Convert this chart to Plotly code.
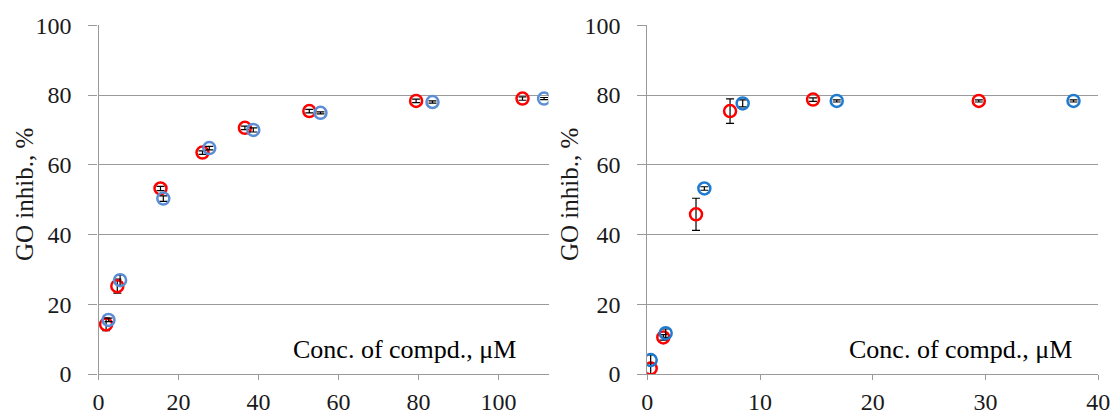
import plotly.graph_objects as go

# Left panel data
left_red_x = [1.9, 4.7, 15.5, 26.0, 36.6, 52.7, 79.4, 106.0]
left_red_y = [14.2, 25.2, 53.2, 63.5, 70.6, 75.4, 78.3, 79.0]
left_red_err = [1.8, 2.0, 0.6, 0.5, 0.5, 0.5, 0.5, 0.5]
left_blue_x = [2.5, 5.4, 16.2, 27.7, 38.7, 55.5, 83.5, 111.4]
left_blue_y = [15.5, 26.9, 50.3, 64.8, 70.0, 74.9, 78.0, 79.0]
left_blue_err = [0.5, 1.5, 0.8, 0.5, 0.6, 0.3, 0.3, 0.3]

# Right panel data
right_red_x = [0.3, 1.42, 4.32, 7.34, 14.7, 29.4]
right_red_y = [1.6, 10.5, 45.8, 75.4, 78.7, 78.3]
right_red_err = [1.5, 0.8, 4.6, 3.5, 0.5, 0.3]
right_blue_x = [0.3, 1.63, 5.06, 8.46, 16.8, 37.8]
right_blue_y = [4.0, 11.7, 53.2, 77.6, 78.3, 78.3]
right_blue_err = [1.5, 1.2, 0.5, 1.0, 0.3, 0.3]

y_ticks = [0, 20, 40, 60, 80, 100]
left_x_ticks = [0, 20, 40, 60, 80, 100]
right_x_ticks = [0, 10, 20, 30, 40]

FONT = "Liberation Serif, Times New Roman, serif"
RED = "#FF0000"
BLUE_L = "#5B8ED6"
BLUE_R = "#1F7BD0"
TXT = "#1a1a1a"


def trace(x, y, err, color, xa, ya):
    return go.Scatter(
        x=x, y=y, mode="markers", xaxis=xa, yaxis=ya, showlegend=False,
        marker=dict(symbol="circle-open", size=12, color=color, line=dict(width=2.5, color=color)),
        error_y=dict(type="data", array=err, visible=True, color="black", thickness=1.2, width=4),
    )


fig = go.Figure()
fig.add_trace(trace(left_red_x, left_red_y, left_red_err, RED, "x", "y"))
fig.add_trace(trace(left_blue_x, left_blue_y, left_blue_err, BLUE_L, "x", "y"))
fig.add_trace(trace(right_red_x, right_red_y, right_red_err, RED, "x2", "y2"))
fig.add_trace(trace(right_blue_x, right_blue_y, right_blue_err, BLUE_R, "x2", "y2"))

ydom = [45 / 419, 393.7 / 419]
common_y = dict(
    range=[0, 100], tickvals=y_ticks, showgrid=True, gridcolor="#9a9a9a", gridwidth=1.2,
    showline=True, linecolor="#9a9a9a", linewidth=1.2, ticks="outside", ticklen=9,
    tickcolor="#9a9a9a", zeroline=False, tickfont=dict(family=FONT, size=24, color=TXT),
    ticklabelstandoff=12, automargin=False, domain=ydom,
)
common_x = dict(
    showgrid=False, showline=True, linecolor="#9a9a9a", linewidth=1.2, ticks="outside",
    ticklen=5, tickcolor="#9a9a9a", zeroline=False, automargin=False,
    tickfont=dict(family=FONT, size=24, color=TXT), ticklabelstandoff=1,
)

ytitle_y = (419 - 195) / 419

fig.update_layout(
    width=1116, height=419, margin=dict(l=0, r=0, t=0, b=0, autoexpand=False),
    plot_bgcolor="white", paper_bgcolor="white",
    xaxis=dict(common_x, range=[0, 112.5], tickvals=left_x_ticks,
               domain=[98.5 / 1116, 548.5 / 1116], anchor="y"),
    yaxis=dict(common_y, anchor="x"),
    xaxis2=dict(common_x, range=[0, 40], tickvals=right_x_ticks,
                domain=[647.3 / 1116, 1098.3 / 1116], anchor="y2"),
    yaxis2=dict(common_y, anchor="x2"),
    annotations=[
        dict(text="GO inhib., %", x=24 / 1116, y=ytitle_y, xref="paper", yref="paper",
             textangle=-90, xanchor="center", yanchor="middle", showarrow=False,
             font=dict(family=FONT, size=25, color=TXT)),
        dict(text="GO inhib., %", x=569 / 1116, y=ytitle_y, xref="paper", yref="paper",
             textangle=-90, xanchor="center", yanchor="middle", showarrow=False,
             font=dict(family=FONT, size=25, color=TXT)),
        dict(text="Conc. of compd., μM", x=104.9, y=6.9, xref="x", yref="y",
             xanchor="right", yanchor="middle", showarrow=False,
             font=dict(family=FONT, size=26, color="black")),
        dict(text="Conc. of compd., μM", x=37.8, y=6.9, xref="x2", yref="y2",
             xanchor="right", yanchor="middle", showarrow=False,
             font=dict(family=FONT, size=26, color="black")),
    ],
)

fig.write_html("out.html")
